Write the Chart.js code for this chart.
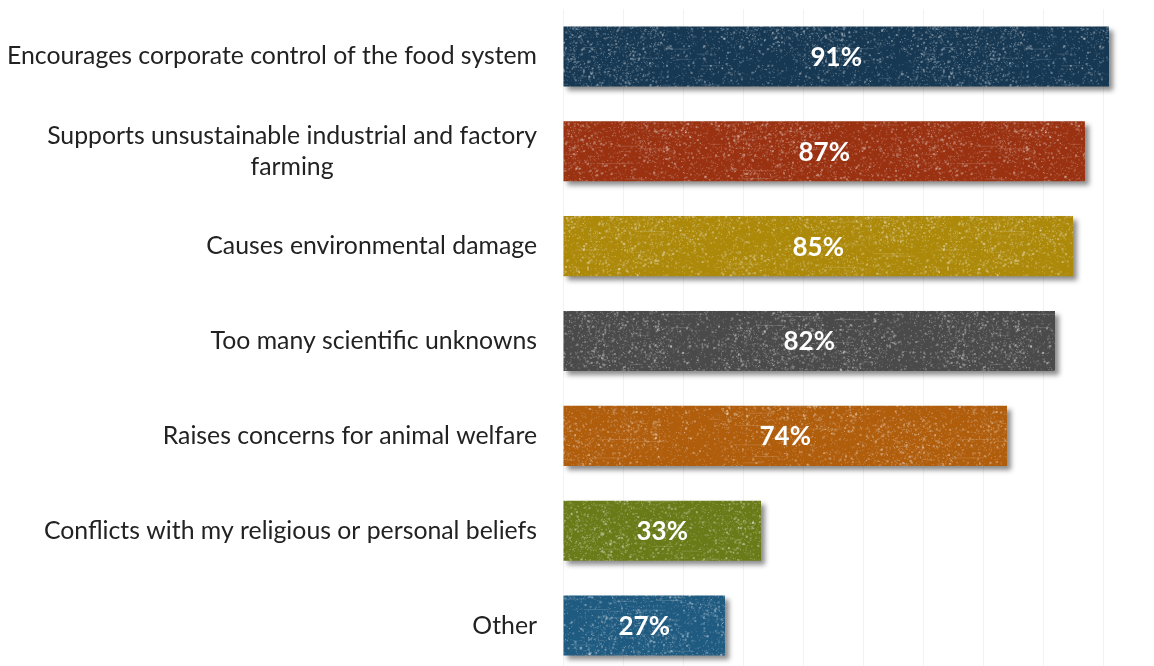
<!DOCTYPE html>
<html>
<head>
<meta charset="utf-8">
<script src="https://cdn.jsdelivr.net/npm/chart.js@4/dist/chart.umd.min.js"></script>
<style>
  html, body { margin: 0; padding: 0; background: #fff; overflow: hidden; }
  #wrap { width: 1163px; height: 673px; }
</style>
</head>
<body>
<div id="wrap"><canvas id="chart" width="1163" height="673"></canvas></div>
<script>
// data
let categories = [
    "Encourages corporate control of the food system",
    ["Supports unsustainable industrial and factory", "farming"],
    "Causes environmental damage",
    "Too many scientific unknowns",
    "Raises concerns for animal welfare",
    "Conflicts with my religious or personal beliefs",
    "Other"
];
let percents = [91, 87, 85, 82, 74, 33, 27];
let bar_colors = ['#163853', '#9a3212', '#ad890a', '#4a4a4a', '#b05d0c', '#687b18', '#1f5a80'];

// small seeded generator, only used for the chalky texture
function mulberry(a) {
    return function () {
        a |= 0; a = a + 0x6D2B79F5 | 0;
        let t = Math.imul(a ^ a >>> 15, 1 | a);
        t = t + Math.imul(t ^ t >>> 7, 61 | t) ^ t;
        return ((t ^ t >>> 14) >>> 0) / 4294967296;
    };
}

function make_texture(color, seed) {
    let c = document.createElement('canvas');
    c.width = 360; c.height = 94;
    let g = c.getContext('2d');
    g.fillStyle = color;
    g.fillRect(0, 0, c.width, c.height);
    let rnd = mulberry(seed);
    // cloudy patches where the speckle is denser
    let blobs = [];
    for (let i = 0; i < 9; i++) blobs.push([rnd() * c.width, rnd() * c.height, 20 + rnd() * 40]);
    for (let i = 0; i < 6500; i++) {
        let x = rnd() * c.width, y = rnd() * c.height;
        let near = blobs.some(b => Math.hypot(x - b[0], (y - b[1]) * 1.5) < b[2]);
        if (!near && rnd() < 0.45) continue;
        g.fillStyle = 'rgba(255,255,255,' + (0.06 + rnd() * 0.32).toFixed(2) + ')';
        let s = rnd() < 0.85 ? 1 : 2;
        g.fillRect(x, y, s, s);
    }
    for (let i = 0; i < 20; i++) {
        let x = rnd() * c.width, y = rnd() * c.height;
        g.fillStyle = 'rgba(255,255,255,0.15)';
        g.fillRect(x, y, 8 + rnd() * 30, 1);
    }
    return g.createPattern(c, 'repeat');
}

let textures = bar_colors.map((c, i) => make_texture(c, 17 + i * 31));

const label_font = '24.8px Lato, "Open Sans", sans-serif';

// category labels drawn by hand: right aligned block, lines centered inside it
let cat_labels = {
    id: 'cat_labels',
    afterDraw(chart) {
        let ctx = chart.ctx, y = chart.scales.y;
        ctx.save();
        ctx.font = label_font;
        ctx.fillStyle = '#222';
        ctx.textBaseline = 'middle';
        categories.forEach(function (lab, i) {
            let lines = Array.isArray(lab) ? lab : [lab];
            let w = Math.max(...lines.map(l => ctx.measureText(l).width));
            let right = chart.chartArea.left - 26;
            let cy = y.getPixelForValue(i);
            let lh = 31;
            lines.forEach(function (l, k) {
                ctx.textAlign = 'center';
                ctx.fillText(l, right - w / 2, cy + (k - (lines.length - 1) / 2) * lh);
            });
        });
        ctx.restore();
    }
};

// white values in the middle of each bar
let value_labels = {
    id: 'value_labels',
    afterDatasetsDraw(chart) {
        let ctx = chart.ctx;
        let meta = chart.getDatasetMeta(0);
        ctx.save();
        ctx.font = 'bold 26px Lato, "Open Sans", sans-serif';
        ctx.fillStyle = '#fff';
        ctx.textAlign = 'center';
        ctx.textBaseline = 'middle';
        meta.data.forEach(function (bar, i) {
            let cx = (bar.base + bar.x) / 2;
            ctx.fillText(percents[i] + '%', cx, bar.y + 1);
        });
        ctx.restore();
    }
};

// drop shadow under the bars
let bar_shadow = {
    id: 'bar_shadow',
    beforeDatasetsDraw(chart) {
        let ctx = chart.ctx;
        ctx.save();
        ctx.shadowColor = 'rgba(0,0,0,0.45)';
        ctx.shadowBlur = 5;
        ctx.shadowOffsetX = 4;
        ctx.shadowOffsetY = 4;
    },
    afterDatasetsDraw(chart) {
        chart.ctx.restore();
    }
};

let chart = new Chart(document.getElementById('chart').getContext('2d'), {
    type: 'bar',
    data: {
        labels: categories,
        datasets: [{
            data: percents,
            backgroundColor: textures,
            borderWidth: 0,
            barPercentage: 0.633,
            categoryPercentage: 1
        }]
    },
    options: {
        indexAxis: 'y',
        responsive: false,
        animation: false,
        layout: {padding: {left: 563, top: 9, right: 0, bottom: 0}},
        plugins: {legend: {display: false}, tooltip: {enabled: false}},
        scales: {
            x: {
                min: 0, max: 100,
                ticks: {display: false, stepSize: 10},
                grid: {color: '#f2f2f2', drawTicks: false, lineWidth: 1},
                border: {display: false}
            },
            y: {display: false}
        }
    },
    plugins: [bar_shadow, value_labels, cat_labels]
});
</script>
</body>
</html>
